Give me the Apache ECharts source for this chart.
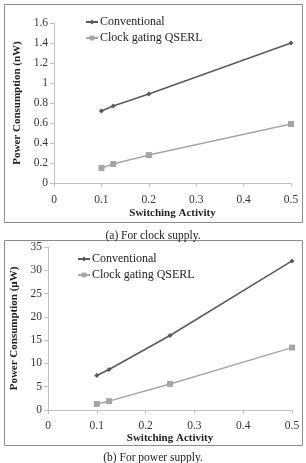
<!DOCTYPE html>
<html>
<head>
<meta charset="utf-8">
<script src="https://cdn.jsdelivr.net/npm/echarts@6/dist/echarts.min.js"></script>
<style>
html, body { margin: 0; padding: 0; background: #fff; }
#chart { width: 306px; height: 463px; }
</style>
</head>
<body>
<div id="chart"></div>
<script>
// 图 (a) 时钟供电
var xA = [0.1, 0.125, 0.2, 0.5];
var convA = [0.72, 0.77, 0.89, 1.40];
var qserlA = [0.15, 0.19, 0.28, 0.59];
// 图 (b) 电源供电
var xB = [0.1, 0.125, 0.25, 0.5];
var convB = [7.4, 8.7, 16, 32];
var qserlB = [1.3, 1.9, 5.6, 13.4];

var seriesNames = ["Conventional", "Clock gating QSERL"];
var captions = ["(a) For clock supply.", "(b) For power supply."];

var serif = "Liberation Serif";
var darkLine = "#595959";
var lightLine = "#a6a6a6";

function pairs(xs, ys) {
    return xs.map(function (x, i) { return [x, ys[i]]; });
}

function xAxisFor(idx) {
    return {
        gridIndex: idx,
        type: "value",
        min: 0,
        max: 0.5,
        interval: 0.1,
        name: "Switching Activity",
        nameLocation: "middle",
        nameGap: idx === 0 ? 25 : 23,
        nameTextStyle: { fontFamily: serif, fontWeight: "bold", fontSize: 11, color: "#222" },
        axisLine: { lineStyle: { color: "#bfbfbf" } },
        axisTick: { show: true, length: 4, lineStyle: { color: "#bfbfbf" } },
        axisLabel: { fontFamily: serif, fontSize: 11.5, color: "#333", margin: idx === 0 ? 11 : 10 },
        splitLine: { show: false }
    };
}

function yAxisFor(idx, max, interval, unit) {
    return {
        gridIndex: idx,
        type: "value",
        min: 0,
        max: max,
        interval: interval,
        name: "Power Consumption (" + unit + ")",
        nameLocation: "middle",
        nameGap: idx === 0 ? 31 : 25,
        nameTextStyle: { fontFamily: serif, fontWeight: "bold", fontSize: 11, color: "#222" },
        axisLine: { show: true, lineStyle: { color: "#bfbfbf" } },
        axisTick: { show: true, length: 4, lineStyle: { color: "#bfbfbf" } },
        axisLabel: { fontFamily: serif, fontSize: 11.5, color: "#333", margin: 6 },
        splitLine: { show: false }
    };
}

function lineSeries(name, idx, data, dark) {
    return {
        name: name,
        type: "line",
        xAxisIndex: idx,
        yAxisIndex: idx,
        data: data,
        symbol: dark ? "diamond" : "rect",
        symbolSize: dark ? 5 : 6,
        showSymbol: true,
        lineStyle: { color: dark ? darkLine : lightLine, width: 1.5 },
        itemStyle: { color: dark ? darkLine : lightLine },
        animation: false
    };
}

function legendFor(left, top) {
    return {
        data: seriesNames,
        orient: "vertical",
        left: left,
        top: top,
        itemWidth: 12,
        itemHeight: 6,
        itemGap: 4,
        textStyle: { fontFamily: serif, fontSize: 12, color: "#222", padding: [0, 0, 0, -3] }
    };
}

var myChart = echarts.init(document.getElementById("chart"));
var option = {
    backgroundColor: "#fff",
    animation: false,
    title: [
        { text: captions[0], left: "center", top: 225, textStyle: { fontFamily: serif, fontSize: 11.5, fontWeight: "normal", color: "#222" } },
        { text: captions[1], left: "center", top: 447, textStyle: { fontFamily: serif, fontSize: 11.5, fontWeight: "normal", color: "#222" } }
    ],
    legend: [legendFor(80, 11), legendFor(72, 248)],
    grid: [
        { left: 54, top: 23, right: 15, height: 160 },
        { left: 48, top: 247, right: 14, height: 163 }
    ],
    xAxis: [xAxisFor(0), xAxisFor(1)],
    yAxis: [yAxisFor(0, 1.6, 0.2, "nW"), yAxisFor(1, 35, 5, "µW")],
    series: [
        lineSeries(seriesNames[0], 0, pairs(xA, convA), true),
        lineSeries(seriesNames[1], 0, pairs(xA, qserlA), false),
        lineSeries(seriesNames[0], 1, pairs(xB, convB), true),
        lineSeries(seriesNames[1], 1, pairs(xB, qserlB), false)
    ],
    graphic: [
        // 外框
        { type: "rect", shape: { x: 4.5, y: 4.5, width: 298, height: 218 }, style: { fill: "none", stroke: "#8c8c8c", lineWidth: 1 } },
        { type: "rect", shape: { x: 4.5, y: 240.5, width: 298, height: 205 }, style: { fill: "none", stroke: "#8c8c8c", lineWidth: 1 } }
    ]
};
myChart.setOption(option, true);
</script>
</body>
</html>
